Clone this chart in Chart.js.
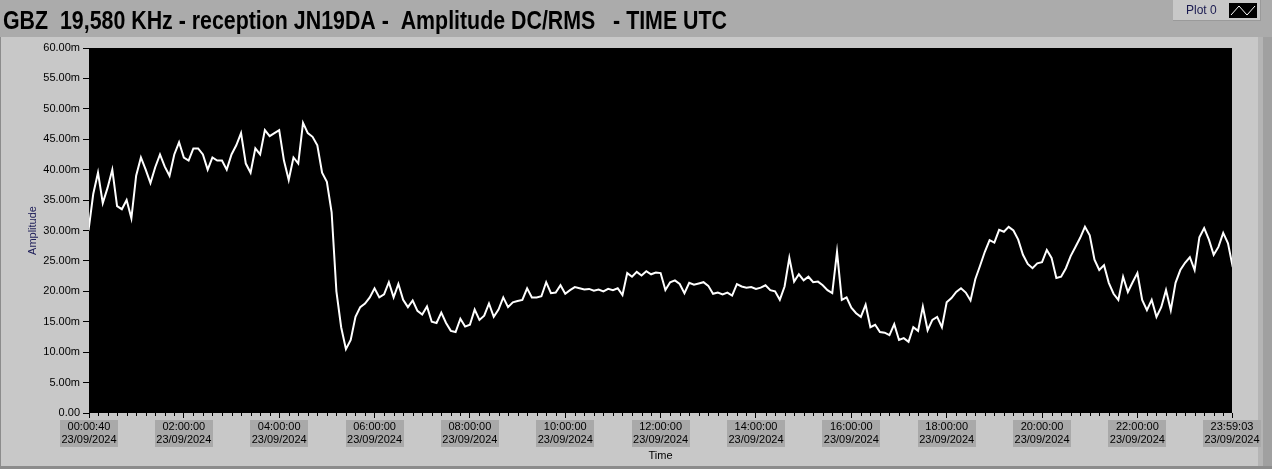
<!DOCTYPE html>
<html>
<head>
<meta charset="utf-8">
<script src="https://cdn.jsdelivr.net/npm/chart.js@4.4.1/dist/chart.umd.min.js"></script>
<style>
  html, body { margin: 0; padding: 0; background: #c8c8c8; overflow: hidden; }
  canvas { display: block; }
</style>
</head>
<body>
<canvas id="gbzChart" width="1272" height="469"></canvas>
<script>
const chartTitle = "GBZ  19,580 KHz - reception JN19DA -  Amplitude DC/RMS   - TIME UTC";
const legendLabel = "Plot 0";
const yAxisTitle = "Amplitude";
const xAxisTitle = "Time";

// time axis, in hours since midnight
const firstHour = 40 / 3600;               // 00:00:40
const lastHour = 23 + 59 / 60 + 3 / 3600;  // 23:59:03
const sampleStep = 0.1;                    // hours between readings
const xTickHours = [firstHour, 2, 4, 6, 8, 10, 12, 14, 16, 18, 20, 22, lastHour];
const xTickTimes = ["00:00:40", "02:00:00", "04:00:00", "06:00:00", "08:00:00", "10:00:00",
  "12:00:00", "14:00:00", "16:00:00", "18:00:00", "20:00:00", "22:00:00", "23:59:03"];
const dateLabel = "23/09/2024";

// amplitude readings in milli-units (m), one every 6 minutes
const amplitude = [
  30, 36, 39.5, 34.5, 37, 40, 34, 33.5, 35, 32,
  39, 42, 40, 37.8, 40.4, 42.5, 40.5, 39, 42.5, 44.5,
  42, 41.5, 43.5, 43.5, 42.5, 40, 42, 41.5, 41.5, 40,
  42.5, 44, 46, 41, 39.5, 43.5, 42.5, 46.5, 45.5, 46,
  46.5, 41.5, 38.3, 42, 41, 47.7, 46, 45.4, 44, 39.5,
  38, 33, 20, 14.1, 10.5, 12, 15.8, 17.4, 18, 19,
  20.5, 19, 19.5, 21.5, 19, 21.2, 18.6, 17.4, 18.5, 16.8,
  16.2, 17.5, 15, 14.8, 16.5, 14.8, 13.5, 13.3, 15.5, 14.2,
  14.5, 17, 15.3, 16, 18, 15.8, 17, 19, 17.4, 18.2,
  18.4, 18.6, 20.5, 19, 19, 19.2, 21.5, 19.7, 19.8, 21,
  19.6, 20.2, 20.7, 20.5, 20.3, 20.4, 20.1, 20.3, 20, 20.4,
  20.2, 20.5, 19.4, 23, 22.4, 23.2, 22.6, 23.3, 22.8, 23.1,
  23, 20.2, 21.5, 21.8, 21.2, 19.7, 21.4, 21.1, 21.3, 21.5,
  20.9, 19.6, 19.8, 19.5, 19.8, 19.3, 21.2, 20.8, 20.6, 20.7,
  20.4, 20.6, 21, 20.2, 20, 18.6, 20.8, 25.5, 21.6, 22.8,
  21.8, 22.4, 21.5, 21.6, 21, 20.2, 19.7, 26.5, 18.6, 19,
  17.3, 16.4, 15.8, 17.8, 14.1, 14.5, 13.3, 13.2, 12.8, 14.6,
  12, 12.3, 11.7, 14.1, 13.5, 17.5, 13.6, 15.3, 15.8, 14.1,
  18.2, 18.9, 19.9, 20.5, 19.8, 18.5, 22, 24.2, 26.5, 28.4,
  28, 30.1, 29.8, 30.6, 30, 28.5, 26, 24.5, 23.8, 24.6,
  24.8, 26.8, 25.5, 22.2, 22.4, 23.8, 25.8, 27.3, 28.8, 30.6,
  29.2, 25.2, 23.5, 24.3, 21.4, 19.6, 18.6, 22.4, 19.9, 21.5,
  23, 18.6, 16.9, 18.6, 15.8, 17.4, 20.2, 16.9, 21.4, 23.5,
  24.7, 25.6, 23.5, 28.9, 30.4, 28.5, 26, 27.3, 29.6, 27.9,
  24
];

const points = amplitude.map((v, i) => ({ x: i * sampleStep, y: v }));
const tickFontFamily = "'Liberation Sans', Arial, sans-serif";

// LabVIEW-ish front panel: grey strips, title, "Plot 0" legend, black plot area
const panelPlugin = {
  id: "panel",
  beforeDraw(chart) {
    const ctx = chart.ctx;
    const a = chart.chartArea;
    const xs = chart.scales.x;
    ctx.save();
    ctx.fillStyle = "#c8c8c8";
    ctx.fillRect(0, 0, 1272, 469);
    ctx.fillStyle = "#ababab";
    ctx.fillRect(0, 0, 1272, 37);
    ctx.fillStyle = "#b4b4b4";
    ctx.fillRect(1258, 37, 5, 432);
    ctx.fillStyle = "#a0a0a0";
    ctx.fillRect(1263, 37, 9, 432);
    ctx.fillStyle = "#8c8c8c";
    ctx.fillRect(0, 466, 1272, 3);
    ctx.fillRect(0, 37, 1, 432);

    // legend box
    ctx.fillStyle = "#c8c8c8";
    ctx.fillRect(1173, 0, 87, 20);
    ctx.fillStyle = "#9a9a9a";
    ctx.fillRect(1173, 20, 87, 1);
    ctx.fillRect(1260, 0, 1, 21);
    ctx.fillStyle = "#1a1a50";
    ctx.font = "12px " + tickFontFamily;
    ctx.textBaseline = "middle";
    ctx.fillText(legendLabel, 1186, 11);
    ctx.fillStyle = "#000";
    ctx.fillRect(1229, 3, 28, 15);
    ctx.strokeStyle = "#fff";
    ctx.lineWidth = 1;
    ctx.beginPath();
    ctx.moveTo(1231, 15);
    ctx.lineTo(1239, 6);
    ctx.lineTo(1247, 15);
    ctx.lineTo(1255, 6);
    ctx.stroke();

    // title
    ctx.fillStyle = "#000";
    ctx.font = "bold 25px 'Liberation Sans Narrow', 'Liberation Sans', Arial, sans-serif";
    ctx.textBaseline = "alphabetic";
    ctx.fillText(chartTitle, 3, 29, 724);

    // grey boxes behind the time labels
    ctx.font = "11px " + tickFontFamily;
    const boxW = Math.ceil(ctx.measureText(dateLabel).width) + 2;
    ctx.fillStyle = "#a9a9a9";
    xTickHours.forEach((h) => {
      const cx = xs.getPixelForValue(h);
      ctx.fillRect(Math.round(cx - boxW / 2), 420, boxW, 27);
    });

    ctx.fillStyle = "#000";
    ctx.fillRect(a.left, a.top, a.right - a.left, a.bottom - a.top);
    ctx.restore();
  },
  afterDraw(chart) {
    // minor ticks every 12 minutes on the time axis
    const ctx = chart.ctx;
    const xs = chart.scales.x;
    const base = chart.chartArea.bottom;
    ctx.save();
    ctx.strokeStyle = "#000";
    ctx.lineWidth = 1;
    ctx.beginPath();
    for (let k = 1; k < 120; k++) {
      if (k % 10 === 0) continue;
      const px = Math.round(xs.getPixelForValue(k * 0.2)) + 0.5;
      ctx.moveTo(px, base);
      ctx.lineTo(px, base + 3);
    }
    ctx.stroke();
    ctx.restore();
  }
};

const tickFont = { family: tickFontFamily, size: 11 };

new Chart(document.getElementById("gbzChart"), {
  type: "line",
  data: {
    datasets: [{
      label: legendLabel,
      data: points,
      borderColor: "#ffffff",
      borderWidth: 2,
      pointRadius: 0,
      tension: 0
    }]
  },
  options: {
    responsive: false,
    animation: false,
    devicePixelRatio: 1,
    layout: { padding: { top: 48, right: 40, left: 0, bottom: 0 } },
    plugins: { legend: { display: false }, tooltip: { enabled: false } },
    scales: {
      x: {
        type: "linear",
        min: firstHour,
        max: lastHour,
        afterBuildTicks: (s) => { s.ticks = xTickHours.map((v) => ({ value: v })); },
        afterFit: (s) => { s.height = 56; },
        border: { display: false },
        grid: { drawOnChartArea: false, tickLength: 5, color: "#000" },
        ticks: {
          autoSkip: false,
          maxRotation: 0,
          padding: 2,
          color: "#000",
          font: tickFont,
          callback: (v, i) => [xTickTimes[i], dateLabel]
        },
        title: { display: true, text: xAxisTitle, color: "#000", font: tickFont, padding: { top: 0, bottom: 6 } }
      },
      y: {
        min: 0,
        max: 60,
        afterFit: (s) => { s.width = 89; },
        border: { display: false },
        grid: { drawOnChartArea: false, tickLength: 6, color: "#000" },
        ticks: {
          stepSize: 5,
          padding: 3,
          color: "#000",
          font: tickFont,
          callback: (v) => (v === 0 ? "0.00" : v.toFixed(2) + "m")
        },
        title: { display: true, text: yAxisTitle, color: "#20205a", font: tickFont, padding: { top: 26, bottom: 0 } }
      }
    }
  },
  plugins: [panelPlugin]
});
</script>
</body>
</html>
